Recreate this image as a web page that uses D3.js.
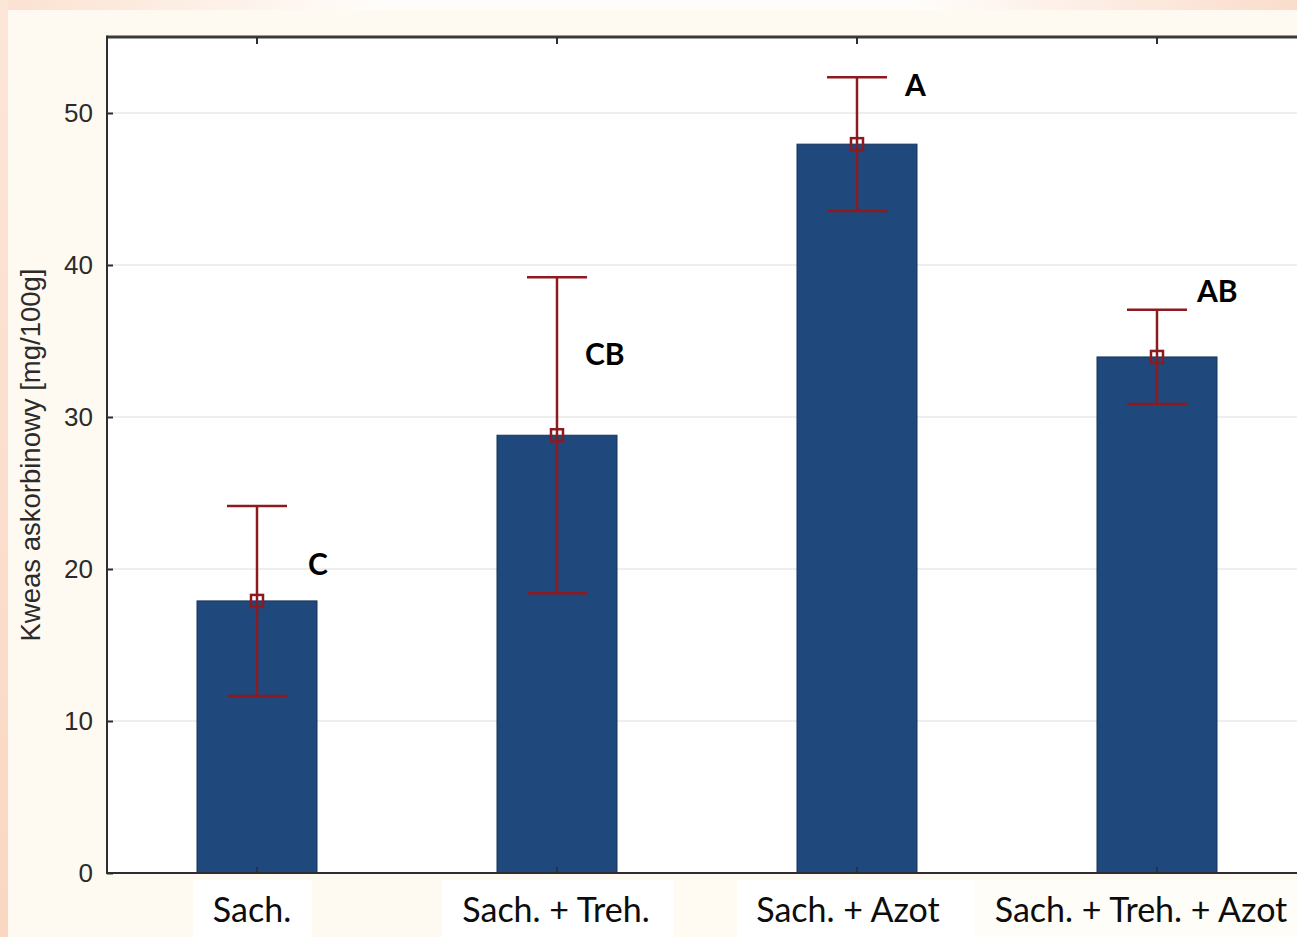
<!DOCTYPE html>
<html>
<head>
<meta charset="utf-8">
<script src="https://cdn.jsdelivr.net/npm/d3@7"></script>
<style>
  html, body { margin: 0; padding: 0; background: #fffaf1; }
  svg { display: block; }
</style>
</head>
<body>
<svg id="chart" width="1297" height="937"></svg>
<script>
// Ascorbic acid content per treatment (mean ± error) with group letters
const categories = ["Sach.", "Sach. + Treh.", "Sach. + Azot", "Sach. + Treh. + Azot"];
const means      = [17.9, 28.8, 47.95, 33.95];
const errors     = [6.25, 10.4, 4.4, 3.1];
const groups     = ["C", "CB", "A", "AB"];
const groupAt    = [20.3, 34.1, 51.8, 38.3];   // vertical anchor of each letter, in mg/100g
const yTicks     = [0, 10, 20, 30, 40, 50];
const yTitle     = "Kweas askorbinowy [mg/100g]";

const W = 1297, H = 937;
const plot = { left: 107, top: 37, right: 1307, bottom: 873 };

const svg = d3.select("#chart");

// ---- slide-like backdrop ----
const defs = svg.append("defs");
const topGrad = defs.append("linearGradient").attr("id", "topGrad")
  .attr("x1", "0").attr("x2", "1").attr("y1", "0").attr("y2", "0");
topGrad.append("stop").attr("offset", "0").attr("stop-color", "#fbe1d0");
topGrad.append("stop").attr("offset", "0.3").attr("stop-color", "#fffdfb");
topGrad.append("stop").attr("offset", "0.7").attr("stop-color", "#fffdfb");
topGrad.append("stop").attr("offset", "1").attr("stop-color", "#fadccb");
const leftGrad = defs.append("linearGradient").attr("id", "leftGrad")
  .attr("x1", "0").attr("x2", "0").attr("y1", "0").attr("y2", "1");
leftGrad.append("stop").attr("offset", "0").attr("stop-color", "#fce6d8");
leftGrad.append("stop").attr("offset", "1").attr("stop-color", "#fad7c3");

svg.append("rect").attr("x", 0).attr("y", 0).attr("width", W).attr("height", H).attr("fill", "#fffaf1");
svg.append("rect").attr("x", 0).attr("y", 0).attr("width", W).attr("height", 10).attr("fill", "url(#topGrad)");
svg.append("rect").attr("x", 0).attr("y", 0).attr("width", 8).attr("height", H).attr("fill", "url(#leftGrad)");

// ---- scales ----
const x = d3.scaleBand()
  .domain(categories)
  .range([plot.left, plot.right])
  .paddingInner(0.6)
  .paddingOuter(0.3);

const y = d3.scaleLinear()
  .domain([0, 55])
  .range([plot.bottom, plot.top]);

const cx = c => x(c) + x.bandwidth() / 2;

// white plot area
svg.append("rect")
  .attr("x", plot.left).attr("y", plot.top)
  .attr("width", W - plot.left).attr("height", plot.bottom - plot.top)
  .attr("fill", "#ffffff");

// boxes behind the category labels
const labelBoxes = [[193, 312, "#ffffff"], [442, 674, "#ffffff"], [675, 737, "#fffbf2"], [737, 974, "#ffffff"], [974, 1297, "#fffdf8"]];
svg.append("g").selectAll("rect").data(labelBoxes).join("rect")
  .attr("x", d => d[0]).attr("y", 880)
  .attr("width", d => d[1] - d[0]).attr("height", H - 880)
  .attr("fill", d => d[2]);

// gridlines
svg.append("g")
  .selectAll("line").data(yTicks.filter(t => t > 0)).join("line")
  .attr("x1", plot.left).attr("x2", W)
  .attr("y1", d => y(d)).attr("y2", d => y(d))
  .attr("stroke", "#dedede").attr("stroke-width", 1.2);

// bars
svg.append("g").selectAll("rect").data(categories).join("rect")
  .attr("x", d => x(d))
  .attr("y", (d, i) => y(means[i]))
  .attr("width", x.bandwidth())
  .attr("height", (d, i) => y(0) - y(means[i]))
  .attr("fill", "#1f497d")
  .attr("stroke", "#17335a")
  .attr("stroke-width", 1);

// frame
const frame = svg.append("g").attr("stroke", "#2e2e2e").attr("fill", "none");
frame.append("line").attr("x1", plot.left).attr("x2", W)
  .attr("y1", plot.top).attr("y2", plot.top).attr("stroke-width", 3).attr("stroke", "#3a3a3a");
frame.append("line").attr("x1", plot.left).attr("x2", plot.left)
  .attr("y1", plot.top - 1.5).attr("y2", plot.bottom + 1).attr("stroke-width", 2);
frame.append("line").attr("x1", plot.left).attr("x2", W)
  .attr("y1", plot.bottom).attr("y2", plot.bottom).attr("stroke-width", 2);

// y axis (ticks point into the plot)
const yAxis = svg.append("g")
  .attr("transform", `translate(${plot.left},0)`)
  .call(d3.axisRight(y).tickValues(yTicks).tickSize(6).tickFormat(""));
yAxis.select(".domain").remove();
yAxis.selectAll(".tick line").attr("stroke", "#2e2e2e").attr("stroke-width", 2);

svg.append("g").selectAll("text").data(yTicks).join("text")
  .attr("x", plot.left - 14)
  .attr("y", d => y(d))
  .attr("dy", "0.36em")
  .attr("text-anchor", "end")
  .attr("font-family", "'Liberation Sans', Arial, sans-serif")
  .attr("font-size", 26)
  .attr("fill", "#2b2b2b")
  .text(d => d);

// category ticks on top and bottom edges
const xTop = svg.append("g")
  .attr("transform", `translate(0,${plot.top})`)
  .call(d3.axisBottom(x).tickSize(7).tickFormat(""));
xTop.select(".domain").remove();
xTop.selectAll(".tick line").attr("stroke", "#2e2e2e").attr("stroke-width", 2);

const xBottom = svg.append("g")
  .attr("transform", `translate(0,${plot.bottom})`)
  .call(d3.axisTop(x).tickSize(6).tickFormat(""));
xBottom.select(".domain").remove();
xBottom.selectAll(".tick line").attr("stroke", "#2e2e2e").attr("stroke-width", 1.5);

// category labels
const labelDx = [-5, -1, -9, -16];
svg.append("g").selectAll("text").data(categories).join("text")
  .attr("x", (d, i) => cx(d) + labelDx[i])
  .attr("y", 922)
  .attr("text-anchor", "middle")
  .attr("font-family", "Lato, 'Open Sans', sans-serif")
  .attr("font-size", 34)
  .attr("fill", "#0d0d0d")
  .text(d => d);

// y axis title
svg.append("text")
  .attr("transform", `translate(40,${455}) rotate(-90)`)
  .attr("text-anchor", "middle")
  .attr("font-family", "'Liberation Sans', Arial, sans-serif")
  .attr("font-size", 27.5)
  .attr("fill", "#2b2b2b")
  .text(yTitle);

// error bars
const errColor = "#8c1a1f";
const capHalf = x.bandwidth() / 4;
const eb = svg.append("g").attr("stroke", errColor).attr("fill", "none").attr("stroke-width", 2.5);
categories.forEach((c, i) => {
  const xc = cx(c);
  const hi = y(means[i] + errors[i]);
  const lo = y(means[i] - errors[i]);
  eb.append("line").attr("x1", xc).attr("x2", xc).attr("y1", hi).attr("y2", lo);
  eb.append("line").attr("x1", xc - capHalf).attr("x2", xc + capHalf).attr("y1", hi).attr("y2", hi);
  eb.append("line").attr("x1", xc - capHalf).attr("x2", xc + capHalf).attr("y1", lo).attr("y2", lo);
  eb.append("rect").attr("x", xc - 6).attr("y", y(means[i]) - 6).attr("width", 12).attr("height", 12);
});

// significance letters
const letterDx = [51, 28, 48, 40];
svg.append("g").selectAll("text").data(groups).join("text")
  .attr("x", (d, i) => cx(categories[i]) + letterDx[i])
  .attr("y", (d, i) => y(groupAt[i]))
  .attr("dy", "0.36em")
  .attr("font-family", "Lato, 'Open Sans', sans-serif")
  .attr("font-weight", "bold")
  .attr("font-size", 30)
  .attr("fill", "#000")
  .text(d => d);
</script>
</body>
</html>
